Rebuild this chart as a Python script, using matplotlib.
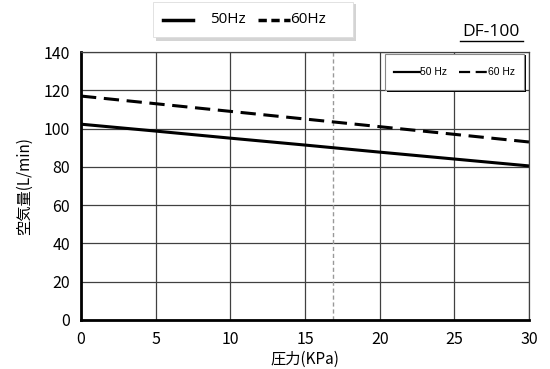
import matplotlib
matplotlib.use("Agg")
import matplotlib.pyplot as plt
from matplotlib.patches import Rectangle
from matplotlib.lines import Line2D

plt.rcParams['font.family'] = ['Noto Sans CJK JP', 'DejaVu Sans']

# データ
pressure = [0, 5, 10, 15, 20, 25, 30]
flow_50hz = [102.3, 98.7, 95.0, 91.4, 87.7, 84.1, 80.5]
flow_60hz = [117.0, 113.0, 109.0, 105.0, 101.0, 97.0, 93.0]
xticks = [0, 5, 10, 15, 20, 25, 30]
yticks = [0, 20, 40, 60, 80, 100, 120, 140]
marker_x = 16.9


def fig_line(fig, xs, ys, **kw):
    fig.add_artist(Line2D(xs, ys, transform=fig.transFigure, **kw))


def main():
    fig = plt.figure(figsize=(5.5, 3.69), dpi=100)
    ax = fig.add_axes([0.1473, 0.1328, 0.8145, 0.7262])

    ax.set_xlim(0, 30)
    ax.set_ylim(0, 140)
    ax.set_xticks(xticks)
    ax.set_yticks(yticks)
    ax.grid(True, color='#404040', linewidth=0.9)
    ax.set_axisbelow(True)
    ax.tick_params(length=0, labelsize=11.5, pad=8)

    for side in ['top', 'right']:
        ax.spines[side].set_linewidth(0.9)
        ax.spines[side].set_color('#404040')
    for side in ['left', 'bottom']:
        ax.spines[side].set_linewidth(2.0)

    ax.axvline(marker_x, color='#999999', linestyle=(0, (3, 2)), linewidth=1.0)

    ax.plot(pressure, flow_50hz, color='black', linewidth=2.2)
    ax.plot(pressure, flow_60hz, color='black', linewidth=2.2, linestyle=(0, (5, 2.5)))

    ax.set_xlabel('圧力(KPa)', fontsize=11, labelpad=2)
    ax.set_ylabel('空気量(L/min)', fontsize=11, labelpad=8)

    # 内側の凡例（手描き）
    fig.add_artist(Rectangle((0.703, 0.752), 0.253, 0.098, transform=fig.transFigure,
                             facecolor='black', edgecolor='none'))
    fig.add_artist(Rectangle((0.700, 0.756), 0.252, 0.098, transform=fig.transFigure,
                             facecolor='white', edgecolor='#888888', linewidth=0.8))
    fig_line(fig, [0.716, 0.764], [0.805, 0.805], color='black', linewidth=1.6)
    fig.text(0.764, 0.805, '50 Hz', fontsize=7.5, va='center',
             family=['Liberation Sans', 'DejaVu Sans'], stretch='condensed')
    fig_line(fig, [0.835, 0.887], [0.805, 0.805], color='black', linewidth=1.6,
             linestyle=(0, (5, 2.5)))
    fig.text(0.887, 0.805, '60 Hz', fontsize=7.5, va='center',
             family=['Liberation Sans', 'DejaVu Sans'])

    # DF-100
    fig.text(0.893, 0.912, 'DF-100', fontsize=12.5, ha='center', va='center',
             family=['Open Sans', 'DejaVu Sans'])
    fig_line(fig, [0.836, 0.951], [0.889, 0.889], color='black', linewidth=1.0)

    # 上の凡例ボックス（影付き）
    fig.add_artist(Rectangle((0.284, 0.888), 0.364, 0.1, transform=fig.transFigure,
                             facecolor='#aaaaaa', edgecolor='none', alpha=0.5))
    fig.add_artist(Rectangle((0.278, 0.900), 0.364, 0.095, transform=fig.transFigure,
                             facecolor='white', edgecolor='#dddddd', linewidth=0.6))
    fig_line(fig, [0.296, 0.351], [0.946, 0.946], color='black', linewidth=2.5)
    fig.text(0.382, 0.946, '50Hz', fontsize=11, va='center',
             family=['Open Sans', 'DejaVu Sans'])
    fig_line(fig, [0.469, 0.527], [0.946, 0.946], color='black', linewidth=2.5,
             linestyle=(0, (2.4, 1.3)))
    fig.text(0.527, 0.946, '60Hz', fontsize=11, va='center',
             family=['Open Sans', 'DejaVu Sans'])

    plt.savefig('out.png', dpi=100)


if __name__ == "__main__":
    main()
